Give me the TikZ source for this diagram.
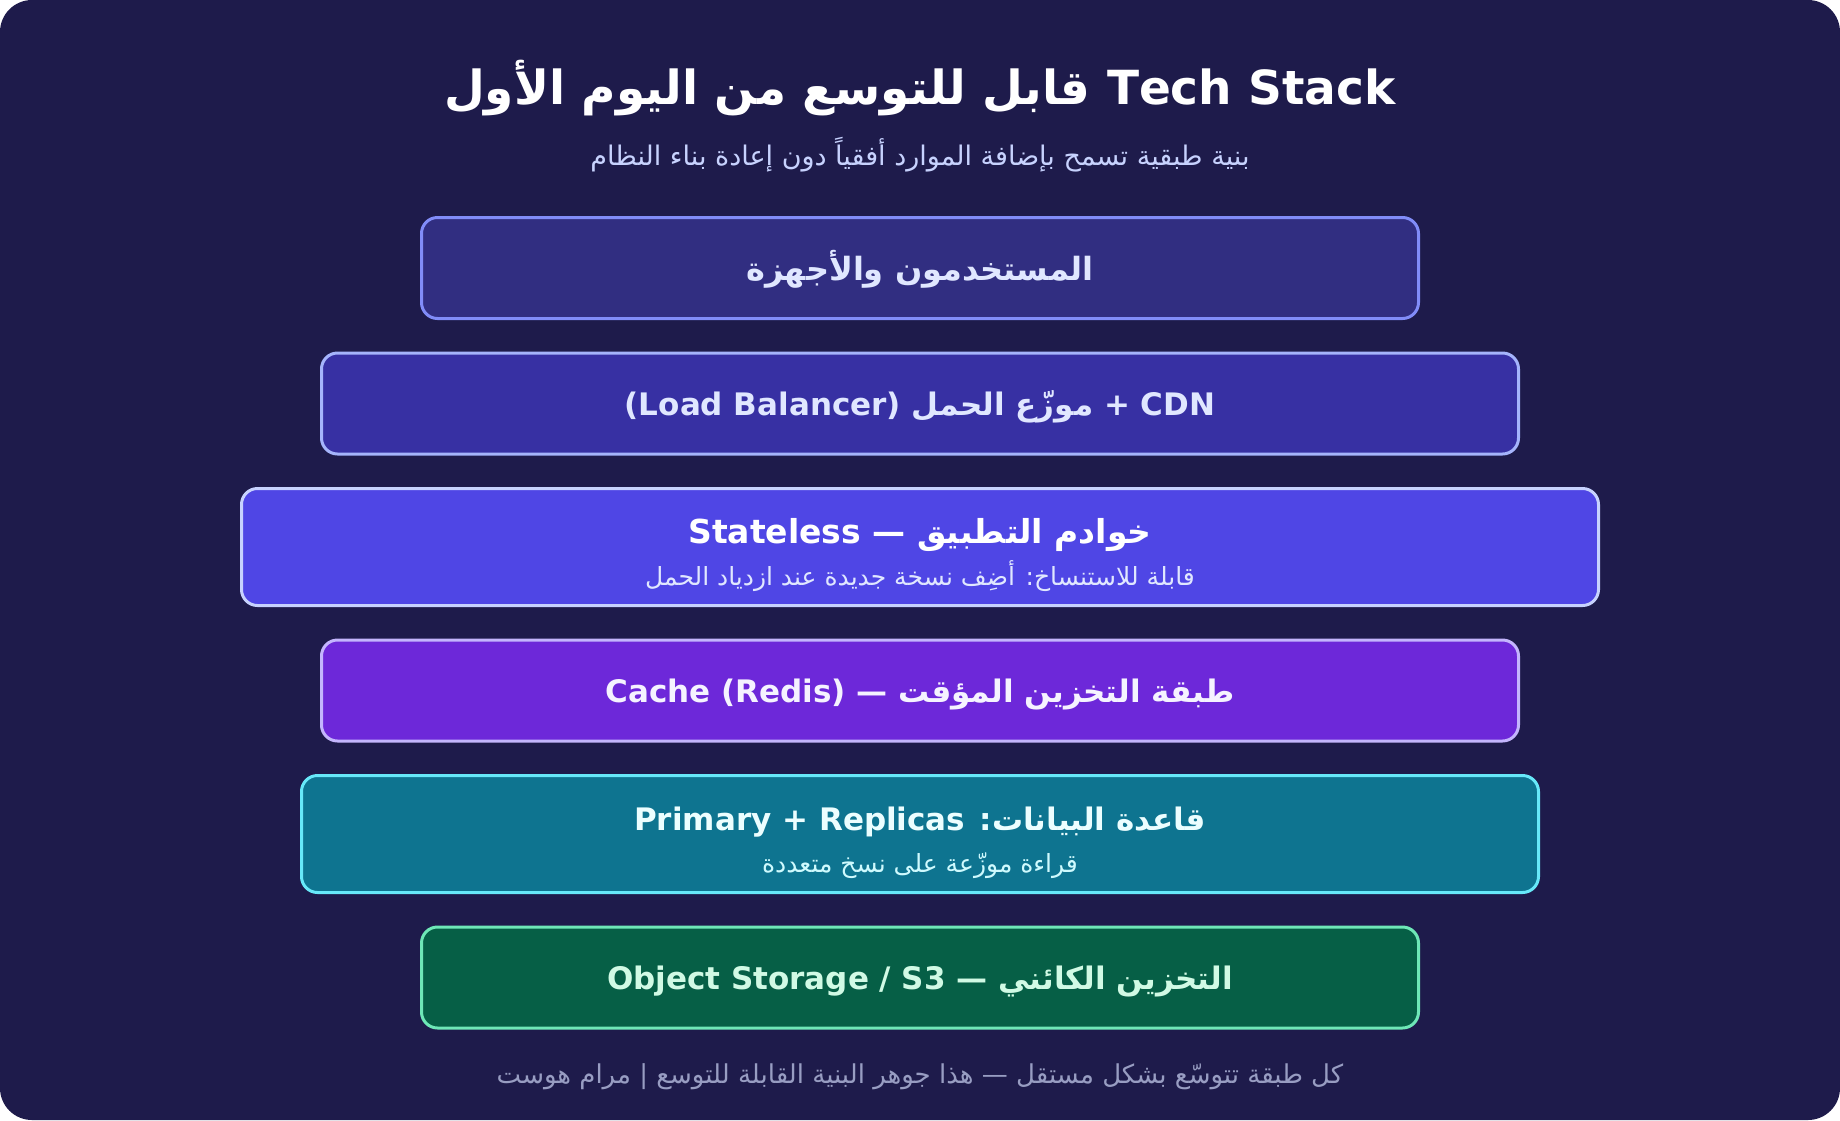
\documentclass[tikz,border=0pt]{standalone}
\usepackage{fontspec}
\setmainfont{DejaVu Sans}
\newfontfamily\arabicfont[Script=Arabic]{DejaVu Sans}
\TeXXeTstate=1
\usetikzlibrary{positioning}

\definecolor{bgnight}{HTML}{1E1B4B}
\definecolor{subink}{HTML}{C7D2FE}
\definecolor{footink}{HTML}{989DC2}
\definecolor{usersfill}{HTML}{312E81}
\definecolor{usersline}{HTML}{818CF8}
\definecolor{cdnfill}{HTML}{3730A3}
\definecolor{cdnline}{HTML}{A5B4FC}
\definecolor{appfill}{HTML}{4F46E5}
\definecolor{appline}{HTML}{C7D2FE}
\definecolor{cachefill}{HTML}{6D28D9}
\definecolor{cacheline}{HTML}{C4B5FD}
\definecolor{dbfill}{HTML}{0E7490}
\definecolor{dbline}{HTML}{67E8F9}
\definecolor{storefill}{HTML}{065F46}
\definecolor{storeline}{HTML}{6EE7B7}
\definecolor{lavink}{HTML}{E0E7FF}
\definecolor{violink}{HTML}{F5F3FF}
\definecolor{cyanink}{HTML}{ECFEFF}
\definecolor{cyansub}{HTML}{CFFAFE}
\definecolor{greenink}{HTML}{D1FAE5}

\newcommand{\arline}[1]{\beginR#1\endR}
\newcommand{\latrun}[1]{\beginL#1\endL}

\begin{document}
\begin{tikzpicture}[x=1pt, y=-1pt, node distance=34.5pt]
	\tikzset{
		layer/.style={draw, line width=3pt, rounded corners=16pt, minimum width=#1, minimum height=101pt, inner sep=0pt, outer sep=0pt},
		tall/.style={minimum height=117pt},
		lyrtext/.style={anchor=base, inner sep=0pt, font=\arabicfont\bfseries\fontsize{31}{37}\selectfont},
		lyrsub/.style={anchor=base, inner sep=0pt, font=\arabicfont\fontsize{25}{30}\selectfont}
	}
	\useasboundingbox (0,0) rectangle (1840,1120);
	\fill[bgnight, rounded corners=32pt] (0,0) rectangle (1840,1120);
	% heading
	\node[anchor=base, inner sep=0pt, text=white, font=\arabicfont\bfseries\fontsize{47}{56}\selectfont] (title) at (920,104) {\arline{\latrun{Tech Stack} قابل للتوسع من اليوم الأول}};
	\node[anchor=base, inner sep=0pt, text=subink, font=\arabicfont\fontsize{27}{32}\selectfont] (subtitle) at (920,165) {\arline{بنية طبقية تسمح بإضافة الموارد أفقياً دون إعادة بناء النظام}};
	% the stack
	\node[layer=997pt, fill=usersfill, draw=usersline] (users) at (920,268) {};
	\node[layer=1197pt, fill=cdnfill, draw=cdnline, below=of users] (cdn) {};
	\node[layer=1357pt, tall, fill=appfill, draw=appline, below=of cdn] (app) {};
	\node[layer=1197pt, fill=cachefill, draw=cacheline, below=of app] (cache) {};
	\node[layer=1237pt, tall, fill=dbfill, draw=dbline, below=of cache] (db) {};
	\node[layer=997pt, fill=storefill, draw=storeline, below=of db] (storage) {};
	% labels
	\node[lyrtext, text=lavink, font=\arabicfont\bfseries\fontsize{32}{38}\selectfont] (userstext) at ([yshift=-12pt]users.center) {\arline{المستخدمون والأجهزة}};
	\node[lyrtext, text=lavink] (cdntext) at ([yshift=-12pt]cdn.center) {\arline{\latrun{CDN} + موزّع الحمل \latrun{(Load Balancer)}}};
	\node[lyrtext, text=white, font=\arabicfont\bfseries\fontsize{33}{39}\selectfont] (apptext) at ([yshift=4pt]app.center) {\arline{خوادم التطبيق — \latrun{Stateless}}};
	\node[lyrsub, text=lavink] (appsub) at ([yshift=-38.5pt]app.center) {\arline{قابلة للاستنساخ: أضِف نسخة جديدة عند ازدياد الحمل}};
	\node[lyrtext, text=violink] (cachetext) at ([yshift=-12pt]cache.center) {\arline{طبقة التخزين المؤقت — \latrun{Cache (Redis)}}};
	\node[lyrtext, text=cyanink] (dbtext) at ([yshift=4pt]db.center) {\arline{قاعدة البيانات: \latrun{Primary + Replicas}}};
	\node[lyrsub, text=cyansub] (dbsub) at ([yshift=-38.5pt]db.center) {\arline{قراءة موزّعة على نسخ متعددة}};
	\node[lyrtext, text=greenink] (storagetext) at ([yshift=-12pt]storage.center) {\arline{التخزين الكائني — \latrun{Object Storage / S3}}};
	% footer
	\node[anchor=base, inner sep=0pt, text=footink, font=\arabicfont\fontsize{26}{31}\selectfont] (footer) at (920,1083) {\arline{كل طبقة تتوسّع بشكل مستقل — هذا جوهر البنية القابلة للتوسع | مرام هوست}};
\end{tikzpicture}
\end{document}
